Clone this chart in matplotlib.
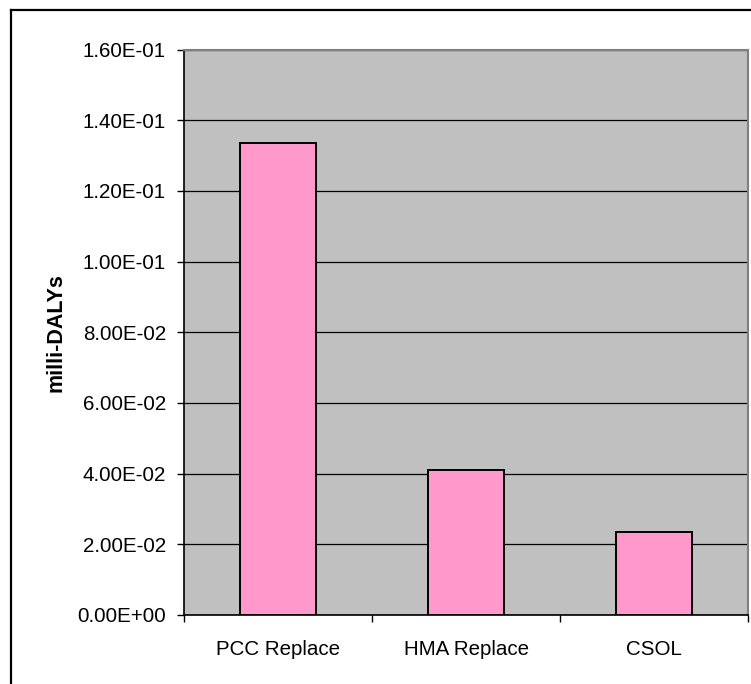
import matplotlib
matplotlib.use("Agg")
import matplotlib.pyplot as plt
from matplotlib.lines import Line2D
import numpy as np

categories = ["PCC Replace", "HMA Replace", "CSOL"]
values = [0.1336, 0.0411, 0.0236]
yticks = [0.0, 0.02, 0.04, 0.06, 0.08, 0.10, 0.12, 0.14, 0.16]
ytick_labels = ["0.00E+00", "2.00E-02", "4.00E-02", "6.00E-02", "8.00E-02",
                "1.00E-01", "1.20E-01", "1.40E-01", "1.60E-01"]
ylabel = "milli-DALYs"

plt.rcParams['font.family'] = ['Liberation Sans', 'DejaVu Sans']

W, H = 751, 684
fig = plt.figure(figsize=(W / 100, H / 100), dpi=100)
ax = fig.add_axes([184 / W, 1 - 615 / H, (748 - 184) / W, (615 - 49.5) / H])
ax.set_facecolor("#C0C0C0")

x = np.arange(len(categories))
ax.bar(x, values, width=0.4, color="#FF99CC", edgecolor="black", linewidth=1.4, zorder=3)

ax.set_xlim(-0.5, len(categories) - 0.5)
ax.set_ylim(0, 0.16)
ax.set_yticks(yticks)
ax.set_yticklabels(ytick_labels, fontsize=14.8)
ax.yaxis.grid(True, color="black", linewidth=0.9, zorder=1)
ax.set_axisbelow(True)

ax.set_xticks(x)
ax.set_xticklabels(categories, fontsize=14.8)
ax.set_xticks(np.arange(-0.5, len(categories), 1.0), minor=True)
ax.tick_params(axis="x", which="major", length=0, pad=18)
ax.tick_params(axis="x", which="minor", length=5, width=1, direction="out", color="black")
ax.tick_params(axis="y", which="major", length=5, width=1, direction="out", pad=8)

ax.set_ylabel(ylabel, fontsize=15.5, fontweight="bold", labelpad=8)

for side in ["left", "bottom"]:
    ax.spines[side].set_color("black")
    ax.spines[side].set_linewidth(1.2)
for side in ["top", "right"]:
    ax.spines[side].set_color("#808080")
    ax.spines[side].set_linewidth(1.5)

# outer chart frame (top and left visible, others clipped by the image edge)
fx = 11 / W
fy = 1 - 10 / H
fig.add_artist(Line2D([fx, fx], [0, fy], transform=fig.transFigure, color="black", linewidth=1.6))
fig.add_artist(Line2D([fx, 1.0], [fy, fy], transform=fig.transFigure, color="black", linewidth=1.6))

fig.savefig("out.png", dpi=100, facecolor="white")
